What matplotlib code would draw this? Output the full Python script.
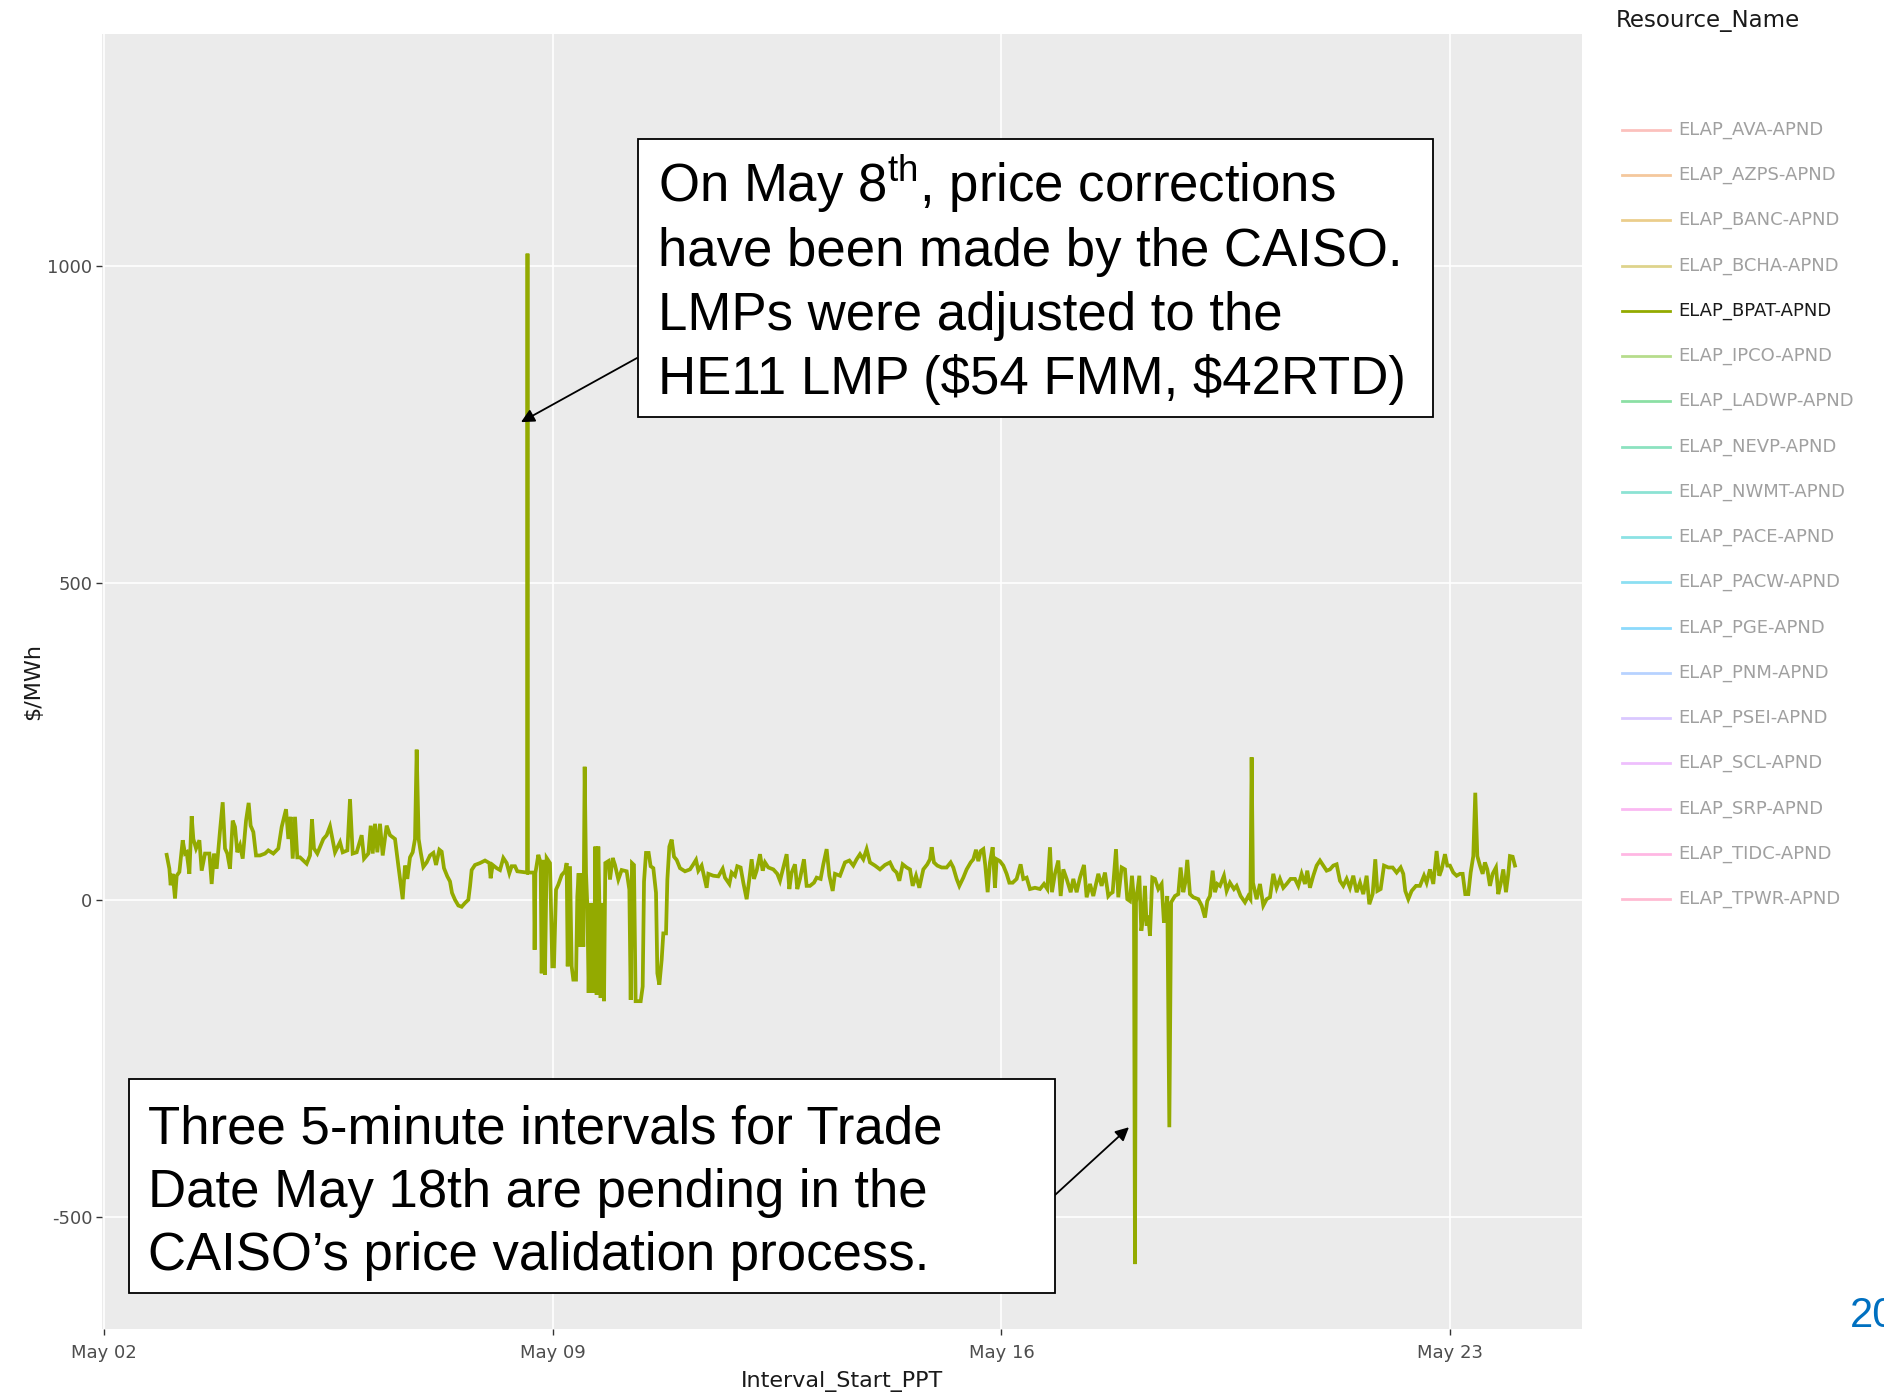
import numpy as np
import matplotlib
matplotlib.use("Agg")
import matplotlib.pyplot as plt
import matplotlib.dates as mdates
from matplotlib.lines import Line2D
from matplotlib.patches import Rectangle

# ELAP_BPAT-APND price: day of May (fractional) and $/MWh
day = [
	2.978, 3.020, 3.040, 3.072, 3.108, 3.134, 3.176, 3.228, 3.264, 3.290, 3.332, 3.368, 3.394, 3.436, 3.488,
	3.524, 3.576, 3.644, 3.680, 3.716, 3.758, 3.810, 3.852, 3.888, 3.924, 3.966,
	4.008, 4.044, 4.080, 4.122, 4.164, 4.216, 4.257, 4.288, 4.330, 4.372, 4.434, 4.512, 4.564, 4.642, 4.720,
	4.772, 4.840, 4.876, 4.912, 4.944, 4.980,
	5.016, 5.058, 5.162, 5.214, 5.245, 5.276, 5.328, 5.422, 5.474, 5.526, 5.568, 5.604, 5.682, 5.724, 5.797,
	5.838, 5.880, 5.942,
	6.020, 6.057, 6.124, 6.161, 6.192, 6.228, 6.264, 6.306, 6.348, 6.410, 6.462, 6.540, 6.592, 6.660, 6.696,
	6.732, 6.774, 6.816, 6.852, 6.878, 6.909, 6.941, 6.982,
	7.034, 7.086, 7.138, 7.180, 7.232, 7.268, 7.304, 7.356, 7.398, 7.429, 7.476, 7.528, 7.580, 7.632, 7.684,
	7.710, 7.736, 7.788, 7.866, 7.944,
	8.012, 8.032, 8.064, 8.126, 8.178, 8.230, 8.282, 8.324, 8.360, 8.412, 8.448, 8.600, 8.607, 8.614, 8.708,
	8.718, 8.730, 8.776, 8.812, 8.828, 8.854, 8.880, 8.906, 8.958, 8.994,
	9.020, 9.052, 9.088, 9.140, 9.192, 9.218, 9.234, 9.270, 9.296, 9.322, 9.364, 9.384, 9.405, 9.426, 9.452,
	9.478, 9.499, 9.520, 9.541, 9.561, 9.582, 9.603, 9.624, 9.645, 9.665, 9.686, 9.712, 9.728, 9.748, 9.769,
	9.801, 9.821, 9.868, 9.894, 9.936, 9.972,
	10.024, 10.076, 10.154, 10.196, 10.217, 10.237, 10.268, 10.294, 10.336, 10.373, 10.404, 10.425, 10.456,
	10.497, 10.528, 10.570, 10.612, 10.633, 10.664, 10.700, 10.726, 10.768, 10.789, 10.820, 10.856, 10.893,
	10.934, 10.986,
	11.064, 11.142, 11.194, 11.236, 11.272, 11.324, 11.360, 11.402, 11.428, 11.506, 11.584, 11.652, 11.688,
	11.756, 11.792, 11.844, 11.880, 11.932, 11.974,
	12.026, 12.068, 12.104, 12.140, 12.182, 12.234, 12.276, 12.312, 12.364, 12.442, 12.504, 12.546, 12.598,
	12.650, 12.692, 12.728, 12.780, 12.816, 12.858, 12.920, 12.962,
	13.014, 13.076, 13.118, 13.180, 13.222, 13.274, 13.316, 13.368, 13.404, 13.482, 13.560, 13.628, 13.690,
	13.742, 13.794, 13.846, 13.898, 13.950,
	14.028, 14.106, 14.184, 14.262, 14.314, 14.366, 14.408, 14.460, 14.522, 14.574, 14.616, 14.668, 14.720,
	14.782, 14.844, 14.886, 14.912, 14.948,
	15.000, 15.068, 15.146, 15.209, 15.250, 15.302, 15.344, 15.406, 15.458, 15.521, 15.562, 15.604, 15.640,
	15.677, 15.718, 15.749, 15.786, 15.822, 15.864, 15.900, 15.926, 15.978,
	16.030, 16.082, 16.124, 16.176, 16.238, 16.300, 16.342, 16.394, 16.446, 16.524, 16.602, 16.665, 16.717,
	16.758, 16.789, 16.836, 16.888, 16.925, 16.966,
	17.018, 17.081, 17.122, 17.174, 17.226, 17.289, 17.330, 17.382, 17.434, 17.512, 17.564, 17.616, 17.668,
	17.694, 17.736, 17.788, 17.824, 17.876, 17.928, 17.964,
	18.006, 18.037, 18.068, 18.084, 18.100, 18.152, 18.183, 18.214, 18.240, 18.266, 18.292, 18.318, 18.354,
	18.396, 18.448, 18.500, 18.536, 18.568, 18.588, 18.620, 18.648, 18.708, 18.760, 18.796, 18.838, 18.869,
	18.900, 18.942, 18.994,
	19.072, 19.124, 19.176, 19.212, 19.254, 19.296, 19.332, 19.368, 19.410, 19.472, 19.514, 19.566, 19.628,
	19.670, 19.732, 19.800, 19.852, 19.885, 19.904, 19.925, 19.982,
	20.034, 20.086, 20.138, 20.190, 20.242, 20.294, 20.346, 20.398, 20.450, 20.512, 20.580, 20.632, 20.684,
	20.736, 20.772, 20.814, 20.866, 20.918, 20.970,
	21.022, 21.074, 21.126, 21.178, 21.230, 21.282, 21.334, 21.386, 21.438, 21.490, 21.542, 21.594, 21.646,
	21.698, 21.740, 21.792, 21.833, 21.865, 21.917, 21.969,
	22.036, 22.104, 22.166, 22.229, 22.270, 22.301, 22.348, 22.400, 22.468, 22.530, 22.593, 22.634, 22.686,
	22.738, 22.790, 22.832, 22.868, 22.920, 22.957, 22.998,
	23.050, 23.102, 23.154, 23.196, 23.237, 23.284, 23.321, 23.362, 23.393, 23.425, 23.466, 23.508, 23.544,
	23.581, 23.622, 23.664, 23.716, 23.752, 23.789, 23.830, 23.872, 23.908, 23.934, 23.976,
	24.012,
]
price = [
	71, 49, 23, 41, 2, 38, 44, 94, 73, 75, 41, 132, 96, 81, 94,
	46, 73, 73, 25, 73, 49, 109, 154, 81, 73, 49,
	125, 115, 75, 86, 65, 125, 153, 117, 107, 70, 70, 73, 78, 73, 81,
	115, 143, 96, 131, 65, 131,
	67, 67, 57, 70, 127, 81, 73, 96, 102, 116, 94, 75, 91, 75, 78,
	159, 73, 75,
	102, 65, 73, 117, 73, 120, 75, 120, 70, 117, 102, 96, 54, 1, 54,
	33, 67, 75, 96, 237, 96, 75, 52,
	59, 70, 74, 55, 79, 76, 50, 37, 29, 11, 0, -9, -11, -5, 0,
	21, 47, 55, 58, 62,
	58, 34, 55, 50, 47, 66, 58, 42, 53, 53, 45, 43, 1020, 43, 43,
	-79, 42, 71, 58, -116, 63, -118, 66, 58, -105,
	-105, 16, 24, 39, 45, 58, -105, 53, -105, -126, -126, 5, 42, -74, 42,
	-74, 210, 42, -11, -147, -5, -147, -5, -147, 84, -150, 84, -5, -155, -5,
	-160, 58, 61, 32, 66, 55,
	32, 47, 45, 16, -158, 58, 55, -160, -160, -160, -137, 29, 74,
	74, 53, 50, 11, -116, -134, -95, -53, -53, 32, 84, 95, 68,
	63, 50,
	45, 48, 56, 63, 46, 54, 38, 19, 41, 38, 37, 49, 35,
	25, 43, 38, 53, 51, 27,
	1, 33, 64, 33, 46, 72, 46, 59, 51, 48, 41, 30, 51,
	72, 17, 43, 56, 17, 33, 64, 22,
	22, 27, 35, 33, 56, 80, 38, 14, 41, 38, 59, 62, 54,
	64, 72, 64, 80, 59,
	54, 48, 55, 59, 48, 43, 30, 56, 51, 48, 22, 38, 19,
	48, 56, 64, 83, 59,
	54, 51, 51, 59, 51, 33, 22, 35, 48, 59, 64, 79, 61,
	77, 80, 54, 12, 59, 83, 19, 64, 61,
	54, 41, 27, 27, 33, 56, 33, 35, 17, 19, 17, 25, 17,
	83, 12, 41, 62, 6, 48,
	33, 12, 33, 12, 35, 55, 4, 25, 6, 41, 22, 43, 6,
	9, 12, 80, 4, 51, 48, 1,
	-2, 38, 1, -575, -4, 38, -49, -25, 22, -41, -25, -57, 35,
	33, 17, 25, -36, -17, 6, -359, -4, 6, 9, 51, 12, 27,
	63, 9, 4,
	1, -9, -28, -2, 6, 46, 12, 25, 22, 38, 14, 27, 17,
	22, 6, -4, 6, 1, 225, 27, 1,
	25, -9, 1, 4, 41, 19, 33, 19, 25, 33, 33, 22, 41,
	25, 46, 19, 38, 54, 62,
	54, 46, 48, 54, 56, 30, 22, 33, 19, 38, 12, 27, 9,
	38, -7, 9, 64, 14, 17, 54,
	51, 51, 43, 51, 41, 14, 1, 14, 22, 22, 38, 27, 48,
	25, 77, 38, 48, 72, 54, 54,
	43, 38, 41, 41, 9, 9, 43, 69, 169, 69, 54, 41, 59,
	48, 22, 41, 51, 9, 25, 48, 12, 41, 69, 68,
	54,
]

resources = ["ELAP_AVA-APND", "ELAP_AZPS-APND", "ELAP_BANC-APND", "ELAP_BCHA-APND", "ELAP_BPAT-APND",
	"ELAP_IPCO-APND", "ELAP_LADWP-APND", "ELAP_NEVP-APND", "ELAP_NWMT-APND", "ELAP_PACE-APND",
	"ELAP_PACW-APND", "ELAP_PGE-APND", "ELAP_PNM-APND", "ELAP_PSEI-APND", "ELAP_SCL-APND",
	"ELAP_SRP-APND", "ELAP_TIDC-APND", "ELAP_TPWR-APND"]
hue_colors = ["#F8766D", "#E88526", "#D39200", "#B79F00", "#93AA00", "#5EB300", "#00BA38", "#00BF74",
	"#00C19F", "#00BFC4", "#00B9E3", "#00ADFA", "#619CFF", "#AE87FF", "#DB72FB", "#F564E3", "#FF61C3", "#FF699C"]
shown = "ELAP_BPAT-APND"

tick_days = [2, 9, 16, 23]
y_ticks = [-500, 0, 500, 1000]

# first line carries a superscript (mathtext), the rest are plain text
note_top = [r"On May 8$^{\mathrm{th}}$, price corrections", "have been made by the CAISO.",
	"LMPs were adjusted to the", "HE11 LMP ($54 FMM, $42RTD)"]
note_bottom = ["Three 5-minute intervals for Trade", "Date May 18th are pending in the",
	"CAISO\u2019s price validation process."]

W, H = 1884, 1395
plt.rcParams['font.family'] = ['DejaVu Sans']
plt.rcParams['mathtext.fontset'] = 'custom'
plt.rcParams['mathtext.rm'] = 'Liberation Sans'
plt.rcParams['axes.unicode_minus'] = False

fig = plt.figure(figsize = (W / 100, H / 100), dpi = 100)
ax = fig.add_axes([102 / W, 1 - 1329 / H, 1480 / W, 1295 / H])
ax.set_facecolor('#EBEBEB')
for s in ax.spines.values():
	s.set_visible(False)

may0 = mdates.date2num(np.datetime64('2020-05-01')) - 1
x = may0 + np.array(day)
ax.plot(x, price, color = hue_colors[resources.index(shown)], lw = 2.7, solid_joinstyle = 'miter', zorder = 3)

ax.set_xlim(may0 + 1.969, may0 + 25.058)
ax.set_ylim(-677.5, 1366.7)
ax.xaxis.set_major_locator(mdates.DayLocator(bymonthday = tick_days))
ax.xaxis.set_major_formatter(mdates.DateFormatter('%b %d'))
ax.set_yticks(y_ticks)
ax.grid(True, color = 'white', lw = 1.2)
ax.set_axisbelow(True)
ax.tick_params(length = 4, width = 1, color = '#333333', labelcolor = '#4d4d4d', labelsize = 13, pad = 3)
ax.tick_params(axis = 'x', pad = 7)
ax.set_xlabel("Interval_Start_PPT", fontsize = 16, color = '#1a1a1a', labelpad = 6)
ax.set_ylabel("$/MWh", fontsize = 16, color = '#1a1a1a', labelpad = 3)

# legend, drawn by hand to keep plotly's spacing
fig.text(1616 / W, 1 - 20 / H, "Resource_Name", fontsize = 16.5, color = '#1a1a1a', va = 'center')
for i, (name, c) in enumerate(zip(resources, hue_colors)):
	yy = 1 - (130 + i * 45.24) / H
	on = name == shown
	fig.add_artist(Line2D([1622 / W, 1670 / W], [yy, yy], transform = fig.transFigure,
		color = c, lw = 2, alpha = 1 if on else 0.45))
	fig.text(1678 / W, yy, name, fontsize = 13, va = 'center',
		color = '#1a1a1a' if on else '#a0a0a0')

# callout boxes
fig.add_artist(Rectangle((638 / W, 1 - 417 / H), 795 / W, 278 / H, transform = fig.transFigure,
	facecolor = 'white', edgecolor = 'black', lw = 1.3, zorder = 5))
for i, line in enumerate(note_top):
	fig.text(658 / W, 1 - (202 + i * 64) / H, line, fontsize = 38, family = 'Liberation Sans',
		va = 'baseline', zorder = 6, parse_math = (i == 0))
fig.add_artist(Rectangle((129 / W, 1 - 1293 / H), 926 / W, 214 / H, transform = fig.transFigure,
	facecolor = 'white', edgecolor = 'black', lw = 1.3, zorder = 5))
for i, line in enumerate(note_bottom):
	fig.text(148 / W, 1 - (1143 + i * 63.5) / H, line, fontsize = 38, family = 'Liberation Sans',
		va = 'baseline', zorder = 6)

arrow = dict(arrowstyle = '-|>', color = 'black', lw = 1.3, mutation_scale = 20, shrinkA = 0, shrinkB = 0)
ax.annotate('', xy = (may0 + 8.505, 754), xycoords = 'data',
	xytext = (637 / W, 1 - 358 / H), textcoords = 'figure fraction', arrowprops = arrow)
ax.annotate('', xy = (may0 + 17.99, -359), xycoords = 'data',
	xytext = (1055 / W, 1 - 1195 / H), textcoords = 'figure fraction', arrowprops = arrow)

# slide page number, cut by the right edge as in the source slide
fig.text(1850 / W, 1 - 1316 / H, "20", fontsize = 30, color = '#0070C0', family = 'Liberation Sans', va = 'center')

fig.savefig('out.png', dpi = 100)
